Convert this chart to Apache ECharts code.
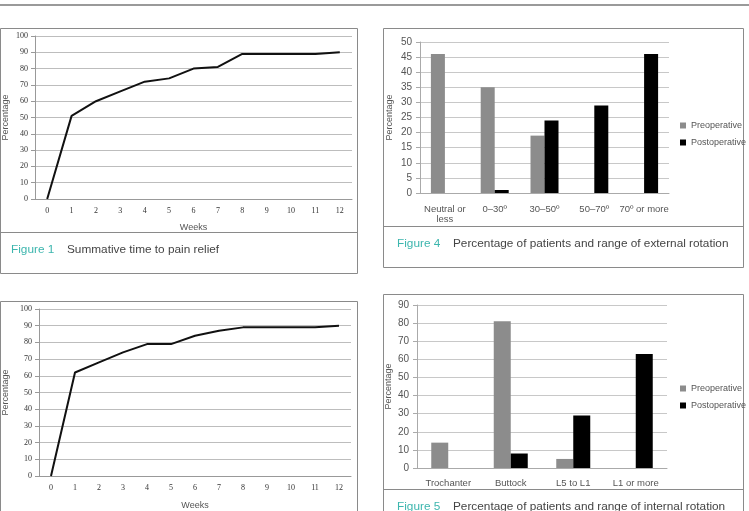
<!DOCTYPE html>
<html>
<head>
<meta charset="utf-8">
<script src="https://cdn.jsdelivr.net/npm/echarts@6/dist/echarts.min.js"></script>
<style>
html, body { margin: 0; padding: 0; background: #fff; }
#chart { width: 749px; height: 511px; }
</style>
</head>
<body>
<div id="chart"></div>
<script>
// figure 1 and the lower line figure: cumulative % with pain relief by week
var weeks = ['0', '1', '2', '3', '4', '5', '6', '7', '8', '9', '10', '11', '12'];
var reliefTop = [0, 51, 60, 66, 72, 74, 80, 81, 89, 89, 89, 89, 90];
var reliefBottom = [0, 62, 68, 74, 79, 79, 84, 87, 89, 89, 89, 89, 90];

// figure 4: external rotation
var extCategories = ['Neutral or\nless', '0–30º', '30–50º', '50–70º', '70º or more'];
var extPre = [46, 35, 19, 0, 0];
var extPost = [0, 1, 24, 29, 46];

// figure 5: internal rotation
var intCategories = ['Trochanter', 'Buttock', 'L5 to L1', 'L1 or more'];
var intPre = [14, 81, 5, 0];
var intPost = [0, 8, 29, 63];

var legendNames = ['Preoperative', 'Postoperative'];

var serif = 'Liberation Serif';
var sans = 'Liberation Sans';
var teal = '#3db6ae';
var boxColor = '#8a8a8a';

function lineX(idx, gap) {
  return {
    gridIndex: idx, type: 'category', data: weeks, boundaryGap: true,
    name: 'Weeks', nameLocation: 'middle', nameGap: gap,
    nameTextStyle: { fontFamily: sans, fontSize: 9, color: '#555' },
    axisLine: { lineStyle: { color: '#999' } },
    axisTick: { length: 4, lineStyle: { color: '#999' } },
    axisLabel: { fontFamily: serif, fontSize: 8, color: '#333', margin: 8, interval: 0 }
  };
}
function lineY(idx, gap) {
  return {
    gridIndex: idx, type: 'value', min: 0, max: 100, interval: 10,
    name: 'Percentage', nameLocation: 'middle', nameGap: gap, nameRotate: 90,
    nameTextStyle: { fontFamily: sans, fontSize: 9, color: '#555' },
    axisLine: { show: true, lineStyle: { color: '#999' } },
    axisTick: { show: true, length: 4, lineStyle: { color: '#999' } },
    splitLine: { lineStyle: { color: '#bdbdbd' } },
    axisLabel: { fontFamily: serif, fontSize: 8, color: '#333', margin: 7 }
  };
}
function barX(idx, cats, margin) {
  return {
    gridIndex: idx, type: 'category', data: cats,
    axisLine: { lineStyle: { color: '#aaa' } },
    axisTick: { length: 4, lineStyle: { color: '#aaa' } },
    axisLabel: { fontFamily: sans, fontSize: 9.5, color: '#555', margin: margin, interval: 0, lineHeight: 10 }
  };
}
function barY(idx, max, step, gap) {
  return {
    gridIndex: idx, type: 'value', min: 0, max: max, interval: step,
    name: 'Percentage', nameLocation: 'middle', nameGap: gap, nameRotate: 90,
    nameTextStyle: { fontFamily: sans, fontSize: 9, color: '#555' },
    axisLine: { show: true, lineStyle: { color: '#aaa' } },
    axisTick: { show: true, length: 4, lineStyle: { color: '#aaa' } },
    splitLine: { lineStyle: { color: '#c8c8c8' } },
    axisLabel: { fontFamily: sans, fontSize: 10, color: '#555', margin: 8 }
  };
}
function legendAt(top) {
  return {
    orient: 'vertical', left: 680, top: top, data: legendNames, padding: 0,
    icon: 'rect', itemWidth: 6, itemHeight: 6, itemGap: 8,
    selectedMode: false,
    textStyle: { fontFamily: sans, fontSize: 9, color: '#555' }
  };
}
function caption(x, y, label, text) {
  return [
    { type: 'text', x: x, y: y, style: { text: label, fill: teal, fontFamily: sans, fontSize: 11.8, verticalAlign: 'middle' } },
    { type: 'text', x: x + 56, y: y, style: { text: text, fill: '#444', fontFamily: sans, fontSize: 11.8, verticalAlign: 'middle' } }
  ];
}
function box(x, y, w, h) {
  return { type: 'rect', shape: { x: x, y: y, width: w, height: h }, style: { fill: 'none', stroke: boxColor, lineWidth: 1 } };
}
function hline(x1, x2, y, w, c) {
  return { type: 'line', shape: { x1: x1, y1: y, x2: x2, y2: y }, style: { stroke: c || boxColor, lineWidth: w || 1 } };
}

var graphics = [
  hline(0, 749, 5, 2, '#9a9a9a'),
  box(0.5, 28.5, 357, 245), hline(0, 358, 232.5),
  box(383.5, 28.5, 360, 239), hline(383, 744, 226.5),
  box(0.5, 301.5, 357, 260),
  box(383.5, 294.5, 360, 260), hline(383, 744, 489.5)
].concat(
  caption(11, 250, 'Figure 1', 'Summative time to pain relief'),
  caption(397, 244, 'Figure 4', 'Percentage of patients and range of external rotation'),
  caption(397, 507, 'Figure 5', 'Percentage of patients and range of internal rotation')
);

var option = {
  animation: false,
  backgroundColor: '#fff',
  grid: [
    { left: 32, top: 36, width: 320, height: 163 },
    { left: 420, top: 42, width: 249, height: 151 },
    { left: 36, top: 309, width: 315, height: 171 },
    { left: 417, top: 305, width: 250, height: 163 }
  ],
  xAxis: [lineX(0, 24), barX(1, extCategories, 11), lineX(2, 25), barX(3, intCategories, 10)],
  yAxis: [lineY(0, 25), barY(1, 50, 5, 26), lineY(2, 29), barY(3, 90, 10, 24)],
  legend: [legendAt(121), legendAt(384)],
  series: [
    { name: 'Relief', type: 'line', xAxisIndex: 0, yAxisIndex: 0, data: reliefTop, symbol: 'none', lineStyle: { color: '#111', width: 2 } },
    { name: 'Preoperative', type: 'bar', xAxisIndex: 1, yAxisIndex: 1, data: extPre, barWidth: 14, barGap: '0%', itemStyle: { color: '#8c8c8c' } },
    { name: 'Postoperative', type: 'bar', xAxisIndex: 1, yAxisIndex: 1, data: extPost, barWidth: 14, barGap: '0%', itemStyle: { color: '#000' } },
    { name: 'Relief2', type: 'line', xAxisIndex: 2, yAxisIndex: 2, data: reliefBottom, symbol: 'none', lineStyle: { color: '#111', width: 2 } },
    { name: 'Preoperative', type: 'bar', xAxisIndex: 3, yAxisIndex: 3, data: intPre, barWidth: 17, barGap: '0%', itemStyle: { color: '#8c8c8c' } },
    { name: 'Postoperative', type: 'bar', xAxisIndex: 3, yAxisIndex: 3, data: intPost, barWidth: 17, barGap: '0%', itemStyle: { color: '#000' } }
  ],
  graphic: graphics
};

var chart = echarts.init(document.getElementById('chart'));
chart.setOption(option);
</script>
</body>
</html>
